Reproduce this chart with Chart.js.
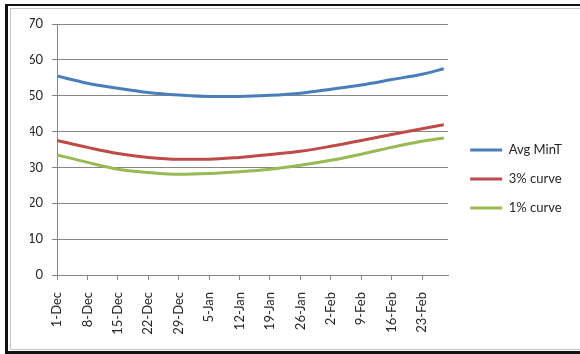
<!DOCTYPE html>
<html>
<head>
<meta charset="utf-8">
<script src="https://cdn.jsdelivr.net/npm/chart.js@4/dist/chart.umd.min.js"></script>
<style>
  body { margin: 0; background: #fff; }
  #outer { position: absolute; left: 5px; top: 4px; width: 600px; height: 345px;
           border-left: 3px solid #111; border-top: 2px solid #111; border-bottom: 3px solid #111; }
  #inner { position: absolute; left: 10px; top: 8px; width: 600px; height: 340px; border: 1px solid #c4c4c4; }
  #chart { position: absolute; left: 0; top: 0; }
</style>
</head>
<body>
<div id="outer"></div>
<div id="inner"></div>
<canvas id="chart" width="580" height="354"></canvas>
<script>
// days after 1-Dec
const days = [0, 7, 14, 21, 28, 35, 42, 49, 56, 63, 70, 77, 84, 89];
const avgMinT = [55.5, 53.5, 52.1, 50.9, 50.2, 49.8, 49.8, 50.1, 50.7, 51.8, 53.0, 54.5, 56.0, 57.5];
const curve3 = [37.5, 35.6, 33.9, 32.8, 32.3, 32.3, 32.8, 33.6, 34.5, 35.9, 37.5, 39.2, 40.8, 41.9];
const curve1 = [33.5, 31.4, 29.5, 28.6, 28.1, 28.3, 28.8, 29.5, 30.6, 32.0, 33.7, 35.6, 37.3, 38.2];
const weekLabels = ['1-Dec', '8-Dec', '15-Dec', '22-Dec', '29-Dec', '5-Jan', '12-Jan', '19-Jan',
                    '26-Jan', '2-Feb', '9-Feb', '16-Feb', '23-Feb'];

const toPoints = (vals) => vals.map((v, i) => ({x: days[i], y: v}));

const lineSet = (label, vals, color) => ({
  label: label,
  data: toPoints(vals),
  borderColor: color,
  backgroundColor: color,
  borderWidth: 3,
  pointRadius: 0,
  cubicInterpolationMode: 'monotone',
  yAxisID: 'y'
});

const font = {family: 'Lato', size: 13};
const axisGray = '#868686';

new Chart(document.getElementById('chart'), {
  type: 'line',
  data: {
    datasets: [
      lineSet('Avg MinT', avgMinT, '#4a7ebb'),
      lineSet('3% curve', curve3, '#be4b48'),
      lineSet('1% curve', curve1, '#98b954')
    ]
  },
  options: {
    responsive: false,
    animation: false,
    layout: { padding: {left: 30, top: 24, bottom: 11, right: 8} },
    plugins: {
      tooltip: {enabled: false},
      legend: {
        position: 'right',
        align: 'start',
        // blank title only pushes the items down to where they sit in the original
        title: { display: true, text: ' ', font: font, padding: {top: 88, bottom: 0} },
        labels: {
          usePointStyle: true,
          pointStyle: 'line',
          pointStyleWidth: 32,
          padding: 16,
          color: '#262626',
          font: font
        }
      }
    },
    scales: {
      x: {
        type: 'linear',
        min: 0,
        max: 90,
        afterFit: (s) => { s.height = 68; },
        grid: { drawOnChartArea: false, drawTicks: true, tickLength: 5, color: axisGray },
        border: { color: axisGray },
        ticks: {
          stepSize: 7,
          includeBounds: false,
          autoSkip: false,
          minRotation: 90,
          maxRotation: 90,
          padding: 12,
          color: '#262626',
          font: font,
          callback: (v) => (v % 7 === 0 ? weekLabels[v / 7] : '')
        }
      },
      y: {
        min: 0,
        max: 70,
        afterFit: (s) => { s.width = 27; },
        grid: { color: axisGray, tickLength: 5 },
        border: { color: axisGray },
        ticks: { stepSize: 10, padding: 9, color: '#262626', font: font }
      },
      // empty strip between plot and legend
      gap: {
        position: 'right',
        display: false,
        afterFit: (s) => { s.width = 6; }
      }
    }
  }
});
</script>
</body>
</html>
